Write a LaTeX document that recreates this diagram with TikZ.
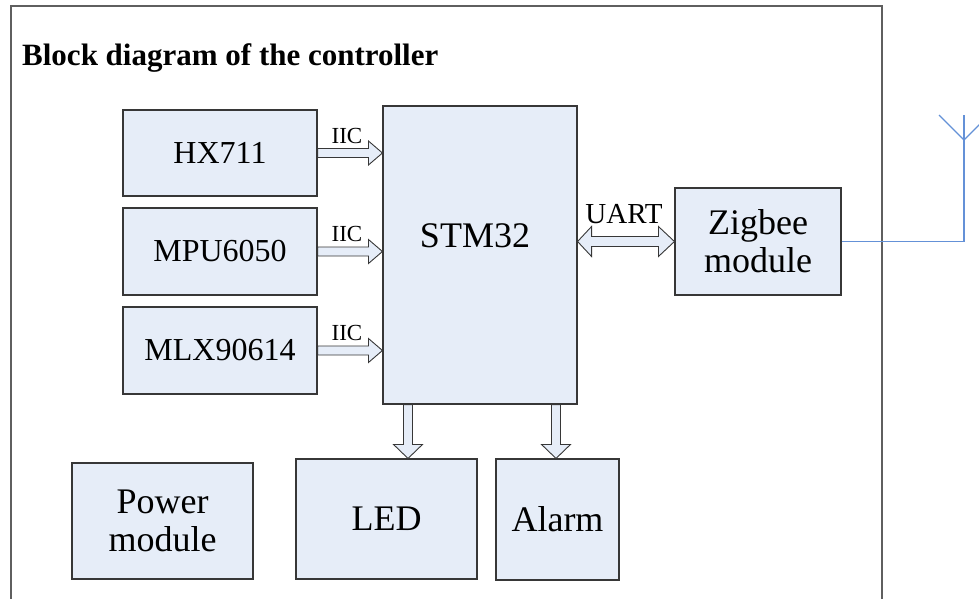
\documentclass[tikz,border=0pt]{standalone}
\usepackage{fontspec}
\setmainfont{Liberation Serif}
\usetikzlibrary{calc}
\definecolor{boxfill}{RGB}{230,237,248}
\definecolor{boxline}{RGB}{55,55,55}
\definecolor{framec}{RGB}{95,95,95}
\definecolor{ant}{RGB}{100,145,215}
\newcommand\iicarrow[1]{%
  \draw[barrow] let \p1=(#1.east), \p2=(stm.west) in
    (\x1,\y1+4.5pt) -- (\x2-14pt,\y1+4.5pt) -- (\x2-14pt,\y1+12pt) -- (\x2,\y1)
    -- (\x2-14pt,\y1-12pt) -- (\x2-14pt,\y1-4.5pt) -- (\x1,\y1-4.5pt) -- cycle;}
\newcommand\blkdownarrow[2]{% #1 target node, #2 x position
  \draw[barrow] let \p1=(stm.south), \p2=(#1.north) in
    (#2pt-4.5pt,\y1) -- (#2pt-4.5pt,\y2+14pt) -- (#2pt-14.5pt,\y2+14pt) -- (#2pt,\y2)
    -- (#2pt+14.5pt,\y2+14pt) -- (#2pt+4.5pt,\y2+14pt) -- (#2pt+4.5pt,\y1) -- cycle;}
\begin{document}
\begin{tikzpicture}[x=1pt,y=-1pt,
  blk/.style={draw=boxline, fill=boxfill, line width=1.1pt, inner sep=0pt, align=center},
  sens/.style={blk, font=\fontsize{32}{36}\selectfont},
  big/.style={blk, font=\fontsize{36}{38}\selectfont},
  barrow/.style={draw=boxline, fill=boxfill, line width=0.9pt, line join=miter},
  lbl/.style={font=\fontsize{23}{26}\selectfont, inner sep=0pt},
  antline/.style={draw=ant, line width=1.2pt}]
\useasboundingbox (0,0) rectangle (979,598);
% outer frame
\draw[framec, line width=1.5pt] (11,600) -- (11,6) -- (882,6) -- (882,600);
\node[anchor=base west, inner sep=0pt, font=\fontsize{31}{34}\selectfont\bfseries] (title) at (22,65) {Block diagram of the controller};
% blocks
\node[sens, minimum width=194, minimum height=86] (hx) at (220,153) {HX711};
\node[sens, minimum width=194, minimum height=87] (mpu) at (220,251.5) {MPU6050};
\node[sens, minimum width=194, minimum height=87] (mlx) at (220,350.5) {MLX90614};
\node[blk, minimum width=194, minimum height=298] (stm) at (480,255) {};
\node[anchor=base, inner sep=0pt, font=\fontsize{36}{38}\selectfont] (stmlabel) at (475,247) {STM32};
\node[big, minimum width=166, minimum height=107] (zig) at (758,241.5) {Zigbee\\module};
\node[big, minimum width=181, minimum height=120] (led) at (386.5,519) {LED};
\node[big, minimum width=123, minimum height=121] (alarm) at (557.5,519.5) {Alarm};
\node[big, minimum width=181, minimum height=116] (power) at (162.5,521) {Power\\module};
% IIC arrows
\iicarrow{hx}
\iicarrow{mpu}
\iicarrow{mlx}
\node[lbl, anchor=base] (iic1) at (347,143) {IIC};
\node[lbl, anchor=base] (iic2) at (347,241.5) {IIC};
\node[lbl, anchor=base] (iic3) at (347,340.5) {IIC};
% UART double arrow
\draw[barrow] let \p1=(stm.east), \p2=(zig.west) in
  (\x1,\y2) -- (\x1+14pt,\y2+15pt) -- (\x1+14pt,\y2+5pt) -- (\x2-16pt,\y2+5pt)
  -- (\x2-16pt,\y2+15pt) -- (\x2,\y2) -- (\x2-16pt,\y2-15pt) -- (\x2-16pt,\y2-5pt)
  -- (\x1+14pt,\y2-5pt) -- (\x1+14pt,\y2-15pt) -- cycle;
\node[anchor=base, inner sep=0pt, font=\fontsize{29}{32}\selectfont] (uart) at (624,223) {UART};
% down arrows
\blkdownarrow{led}{408}
\blkdownarrow{alarm}{556}
% antenna
\coordinate (antbase) at (964,241.5);
\coordinate (antv) at (964,140);
\coordinate (anttop) at (964,115);
\coordinate (antl) at (939,115);
\coordinate (antr) at (989,115);
\draw[antline] (zig.east |- antbase) -- (antbase) -- (anttop);
\draw[antline] (antl) -- (antv) -- (antr);
\end{tikzpicture}
\end{document}
